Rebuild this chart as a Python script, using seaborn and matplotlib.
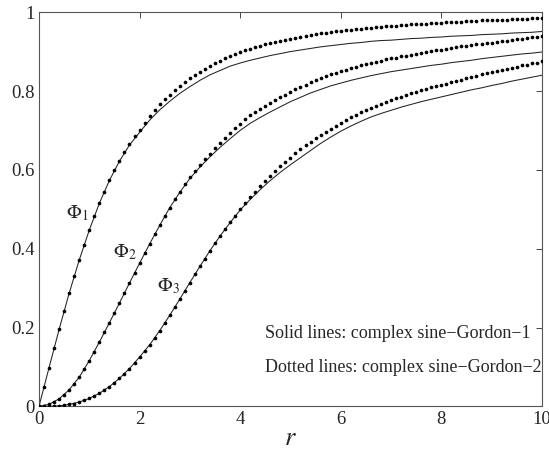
import numpy as np
import pandas as pd
import matplotlib
matplotlib.use("Agg")
import matplotlib.pyplot as plt
import seaborn as sns

# radial grids: dotted curves are sampled every 0.1, solid curves every 0.2
r_dots = np.round(np.arange(0, 101) * 0.1, 1)
r_solid = np.round(np.arange(0, 51) * 0.2, 1)

# Dotted lines: complex sine-Gordon-2
phi1_dots = [
    0.000, 0.049, 0.098, 0.147, 0.195, 0.242, 0.287, 0.330, 0.371, 0.410,
    0.447, 0.482, 0.515, 0.545, 0.573, 0.599, 0.623, 0.645, 0.666, 0.685,
    0.702, 0.720, 0.737, 0.752, 0.766, 0.779, 0.791, 0.802, 0.813, 0.823,
    0.832, 0.841, 0.849, 0.857, 0.864, 0.871, 0.877, 0.883, 0.889, 0.894,
    0.899, 0.903, 0.907, 0.911, 0.914, 0.918, 0.921, 0.924, 0.926, 0.929,
    0.932, 0.935, 0.937, 0.939, 0.942, 0.944, 0.946, 0.948, 0.949, 0.951,
    0.953, 0.954, 0.956, 0.957, 0.958, 0.960, 0.961, 0.962, 0.963, 0.964,
    0.965, 0.966, 0.967, 0.968, 0.969, 0.970, 0.971, 0.971, 0.972, 0.973,
    0.973, 0.974, 0.975, 0.975, 0.976, 0.977, 0.978, 0.978, 0.979, 0.979,
    0.980, 0.980, 0.981, 0.981, 0.982, 0.982, 0.983, 0.983, 0.984, 0.984,
    0.985,
]
phi2_dots = [
    0.000, 0.001, 0.005, 0.011, 0.019, 0.029, 0.042, 0.057, 0.074, 0.094,
    0.116, 0.139, 0.163, 0.188, 0.212, 0.237, 0.262, 0.288, 0.313, 0.338,
    0.363, 0.388, 0.412, 0.436, 0.459, 0.482, 0.504, 0.525, 0.545, 0.564,
    0.581, 0.597, 0.612, 0.627, 0.641, 0.655, 0.668, 0.681, 0.693, 0.705,
    0.717, 0.728, 0.738, 0.747, 0.755, 0.763, 0.770, 0.777, 0.784, 0.791,
    0.798, 0.804, 0.810, 0.816, 0.822, 0.827, 0.832, 0.837, 0.842, 0.846,
    0.850, 0.854, 0.858, 0.861, 0.865, 0.868, 0.871, 0.874, 0.877, 0.880,
    0.883, 0.885, 0.888, 0.890, 0.892, 0.895, 0.897, 0.899, 0.901, 0.903,
    0.905, 0.907, 0.909, 0.911, 0.913, 0.915, 0.916, 0.918, 0.920, 0.922,
    0.923, 0.925, 0.927, 0.928, 0.930, 0.931, 0.933, 0.934, 0.936, 0.937,
    0.939,
]
phi3_dots = [
    0.000, 0.000, 0.000, 0.001, 0.001, 0.003, 0.005, 0.007, 0.011, 0.015,
    0.020, 0.026, 0.033, 0.041, 0.050, 0.060, 0.071, 0.083, 0.096, 0.110,
    0.125, 0.140, 0.156, 0.173, 0.192, 0.211, 0.231, 0.251, 0.272, 0.293,
    0.314, 0.335, 0.355, 0.375, 0.395, 0.414, 0.432, 0.450, 0.467, 0.484,
    0.500, 0.515, 0.530, 0.544, 0.558, 0.571, 0.584, 0.597, 0.609, 0.620,
    0.631, 0.642, 0.652, 0.662, 0.671, 0.680, 0.688, 0.696, 0.704, 0.712,
    0.720, 0.727, 0.734, 0.740, 0.747, 0.753, 0.758, 0.763, 0.768, 0.773,
    0.778, 0.782, 0.786, 0.790, 0.794, 0.798, 0.802, 0.805, 0.809, 0.812,
    0.815, 0.818, 0.822, 0.825, 0.829, 0.832, 0.835, 0.838, 0.842, 0.845,
    0.848, 0.851, 0.854, 0.857, 0.859, 0.862, 0.865, 0.867, 0.870, 0.872,
    0.875,
]

# Solid lines: complex sine-Gordon-1
phi1_solid = [
    0.000, 0.098, 0.195, 0.287, 0.371, 0.447, 0.515, 0.573, 0.622, 0.663,
    0.695, 0.726, 0.752, 0.774, 0.794, 0.811, 0.827, 0.841, 0.852, 0.863,
    0.871, 0.878, 0.884, 0.890, 0.895, 0.900, 0.904, 0.908, 0.912, 0.915,
    0.918, 0.921, 0.923, 0.926, 0.928, 0.929, 0.931, 0.933, 0.934, 0.936,
    0.937, 0.939, 0.940, 0.941, 0.943, 0.944, 0.945, 0.947, 0.948, 0.949,
    0.951,
]
phi2_solid = [
    0.000, 0.005, 0.019, 0.042, 0.074, 0.116, 0.163, 0.212, 0.262, 0.313,
    0.363, 0.412, 0.459, 0.504, 0.543, 0.578, 0.607, 0.633, 0.657, 0.679,
    0.700, 0.718, 0.733, 0.747, 0.760, 0.773, 0.784, 0.795, 0.804, 0.813,
    0.820, 0.827, 0.833, 0.839, 0.844, 0.849, 0.853, 0.857, 0.861, 0.865,
    0.868, 0.872, 0.875, 0.878, 0.882, 0.885, 0.888, 0.891, 0.894, 0.896,
    0.899,
]
phi3_solid = [
    0.000, 0.000, 0.001, 0.005, 0.011, 0.020, 0.033, 0.050, 0.071, 0.096,
    0.125, 0.156, 0.192, 0.231, 0.272, 0.314, 0.355, 0.395, 0.432, 0.466,
    0.498, 0.525, 0.550, 0.573, 0.594, 0.613, 0.631, 0.649, 0.667, 0.683,
    0.698, 0.711, 0.723, 0.734, 0.743, 0.751, 0.759, 0.766, 0.773, 0.779,
    0.785, 0.791, 0.797, 0.803, 0.808, 0.814, 0.819, 0.825, 0.830, 0.835,
    0.840,
]

curve_labels = [r"$\Phi_1$", r"$\Phi_2$", r"$\Phi_3$"]
label_pos = [(0.53, 0.49), (1.48, 0.39), (2.35, 0.305)]

x_ticks = [0, 2, 4, 6, 8, 10]
y_ticks = [0, 0.2, 0.4, 0.6, 0.8, 1]
y_tick_labels = ["0", "0.2", "0.4", "0.6", "0.8", "1"]

sns.set_style("white")
plt.rcParams["font.family"] = ["Liberation Serif", "DejaVu Serif"]
plt.rcParams["mathtext.fontset"] = "stix"

fig = plt.figure(figsize=(5.49, 4.51), dpi=100)
ax = fig.add_axes([0.071, 0.099, 0.916, 0.874])

solid = pd.DataFrame({"r": np.tile(r_solid, 3),
                      "phi": phi1_solid + phi2_solid + phi3_solid,
                      "n": np.repeat([1, 2, 3], len(r_solid))})
dots = pd.DataFrame({"r": np.tile(r_dots, 3),
                     "phi": phi1_dots + phi2_dots + phi3_dots,
                     "n": np.repeat([1, 2, 3], len(r_dots))})

for n in [1, 2, 3]:
    sub = solid[solid["n"] == n]
    sns.lineplot(x="r", y="phi", data=sub, color="#222222", lw=0.75,
                 ax=ax, legend=False, estimator=None, sort=True)
sns.scatterplot(x="r", y="phi", data=dots, color="black", s=7,
                linewidth=0, ax=ax, legend=False, zorder=3)

for txt, (lx, ly) in zip(curve_labels, label_pos):
    ax.text(lx, ly, txt, fontsize=14, va="center", ha="left")

ax.text(4.49, 0.186, "Solid lines: complex sine\u2212Gordon\u22121",
        fontsize=13, va="center", ha="left")
ax.text(4.49, 0.098, "Dotted lines: complex sine\u2212Gordon\u22122",
        fontsize=13, va="center", ha="left")

ax.set_xlim(0, 10)
ax.set_ylim(0, 1)
ax.set_xticks(x_ticks)
ax.set_xticklabels([str(t) for t in x_ticks])
ax.set_yticks(y_ticks)
ax.set_yticklabels(y_tick_labels)
ax.tick_params(direction="in", length=4, width=0.7, color="#444444",
               top=True, right=True, labelsize=13.5, pad=3)
ax.set_xlabel("$r$", fontsize=19, labelpad=0)
ax.set_ylabel("")
for sp in ax.spines.values():
    sp.set_color("#555555")
    sp.set_linewidth(0.8)

fig.savefig("out.png", dpi=100)
